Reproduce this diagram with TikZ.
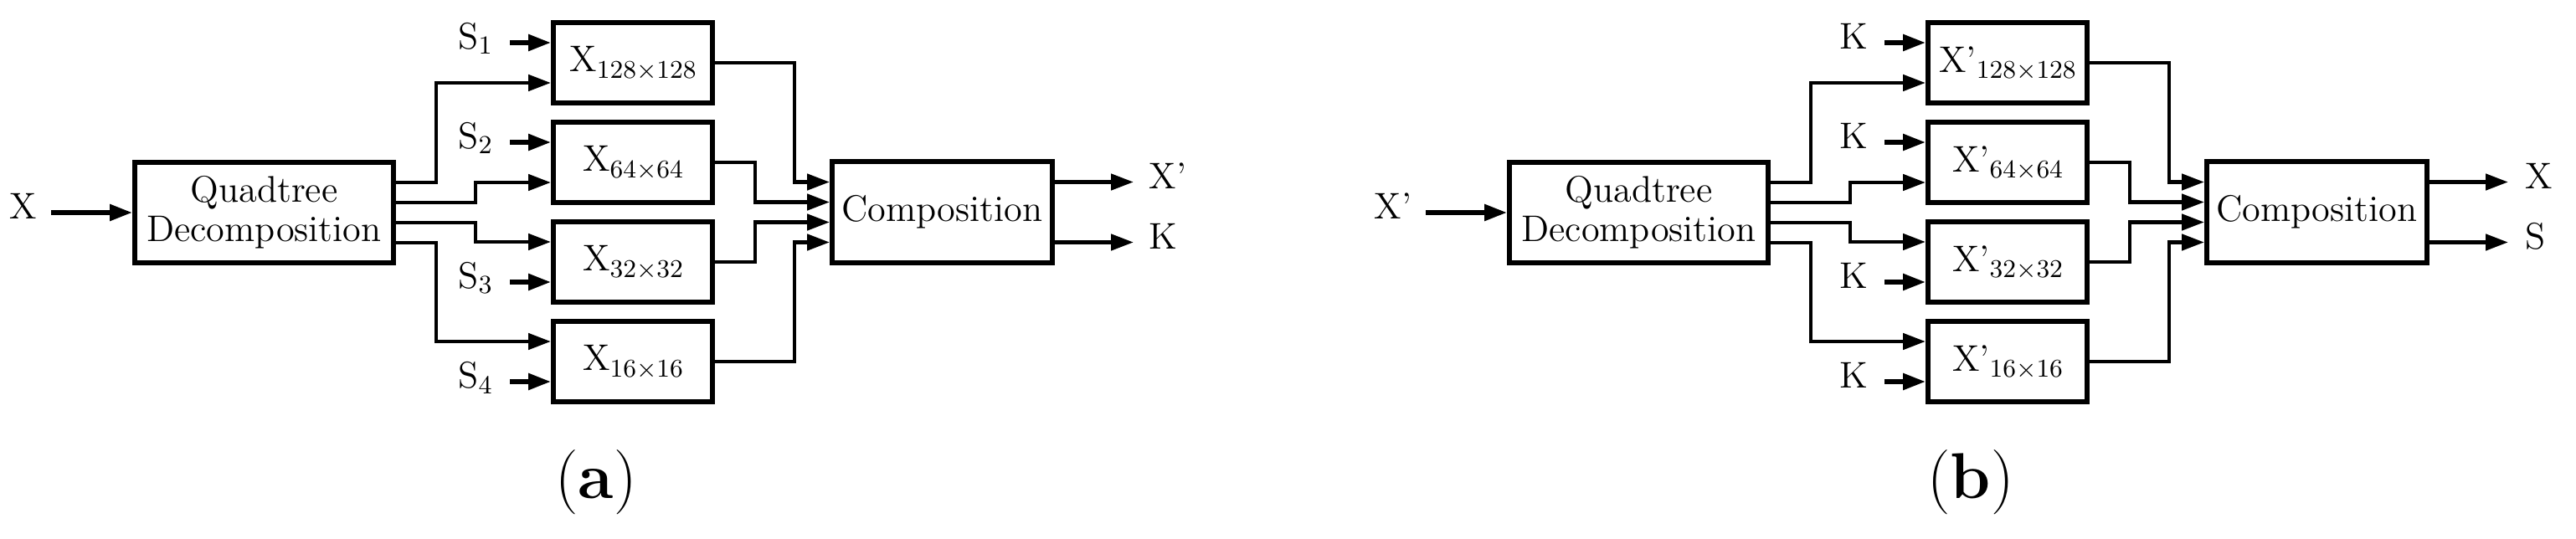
\documentclass[tikz,border=0pt]{standalone}
\usetikzlibrary{arrows.meta, positioning, calc}

\newcommand{\blksub}[1]{\raisebox{-0.4ex}{\fontsize{8.7}{9}\selectfont #1}}

\begin{document}
\begin{tikzpicture}[
        font=\fontsize{12.6}{13.4}\selectfont,
        block/.style={rectangle, draw=black, line width=1.7pt, minimum width=1.9cm, minimum height=0.96cm, inner sep=0pt, align=center},
        bigblock/.style={rectangle, draw=black, line width=1.7pt, minimum width=3.09cm, minimum height=1.2cm, inner sep=0pt, align=center},
        compblock/.style={bigblock, minimum width=2.63cm, minimum height=1.21cm},
        lbl/.style={inner sep=0pt},
        caption/.style={font=\fontsize{22}{26}\selectfont},
        flow/.style={-{Triangle[length=2.7mm, width=1.9mm]}, line width=1.35pt},
        inflow/.style={flow, line width=1.6pt}
    ]
        \useasboundingbox (0,0) rectangle (30.77,-6.44);

        % (a) ZAKODOWANIE
        \node[bigblock] (qt_a) at (3.155,-2.54) {Quadtree\\Decomposition};
        \node[block] (blk_a1) at (7.56,-0.75) {X\blksub{128\texttimes128}};
        \node[block] (blk_a2) at (7.56,-1.94) {X\blksub{64\texttimes64}};
        \node[block] (blk_a3) at (7.56,-3.13) {X\blksub{32\texttimes32}};
        \node[block] (blk_a4) at (7.56,-4.32) {X\blksub{16\texttimes16}};
        \node[compblock] (comp_a) at (11.255,-2.535) {Composition};

        % wejscia (a)
        \coordinate (xin_a) at ($(qt_a.west)+(-0.97,0)$);
        \node[lbl, left=0.16cm of xin_a, anchor=mid east] (xlbl_a) {X};
        \coordinate (s_a1) at ($(blk_a1.west)+(-0.49,0.24)$);
        \coordinate (s_a2) at ($(blk_a2.west)+(-0.49,0.24)$);
        \coordinate (s_a3) at ($(blk_a3.west)+(-0.49,-0.24)$);
        \coordinate (s_a4) at ($(blk_a4.west)+(-0.49,-0.24)$);
        \node[lbl, left=0.19cm of s_a1, anchor=mid east] (slbl_a1) {S\textsubscript{1}};
        \node[lbl, left=0.19cm of s_a2, anchor=mid east] (slbl_a2) {S\textsubscript{2}};
        \node[lbl, left=0.19cm of s_a3, anchor=mid east] (slbl_a3) {S\textsubscript{3}};
        \node[lbl, left=0.19cm of s_a4, anchor=mid east] (slbl_a4) {S\textsubscript{4}};

        % wyjscia (a)
        \coordinate (xo_a) at ($(comp_a.east)+(0.94,0.36)$);
        \coordinate (ko_a) at ($(comp_a.east)+(0.94,-0.36)$);
        \node[lbl, right=0.18cm of xo_a, anchor=mid west] (xolbl_a) {X'};
        \node[lbl, right=0.18cm of ko_a, anchor=mid west] (kolbl_a) {K};

        \node[caption] (cap_a) at (7.12,-5.76) {(\textbf{a})};

        % FLOWS (a)
        \draw[inflow] (xin_a) -- (qt_a.west);
        \draw[inflow] (s_a1) -- (s_a1 -| blk_a1.west);
        \draw[inflow] (s_a2) -- (s_a2 -| blk_a2.west);
        \draw[inflow] (s_a3) -- (s_a3 -| blk_a3.west);
        \draw[inflow] (s_a4) -- (s_a4 -| blk_a4.west);

        \draw[flow] ($(qt_a.east)+(0,0.36)$) -- ++(0.48,0) |- ($(blk_a1.west)+(0,-0.24)$);
        \draw[flow] ($(qt_a.east)+(0,0.12)$) -- ++(0.95,0) |- ($(blk_a2.west)+(0,-0.24)$);
        \draw[flow] ($(qt_a.east)+(0,-0.12)$) -- ++(0.95,0) |- ($(blk_a3.west)+(0,0.24)$);
        \draw[flow] ($(qt_a.east)+(0,-0.36)$) -- ++(0.48,0) |- ($(blk_a4.west)+(0,0.24)$);

        \draw[flow] (blk_a1.east) -- ++(0.95,0) |- ($(comp_a.west)+(0,0.36)$);
        \draw[flow] (blk_a2.east) -- ++(0.48,0) |- ($(comp_a.west)+(0,0.12)$);
        \draw[flow] (blk_a3.east) -- ++(0.48,0) |- ($(comp_a.west)+(0,-0.12)$);
        \draw[flow] (blk_a4.east) -- ++(0.95,0) |- ($(comp_a.west)+(0,-0.36)$);

        \draw[flow] (comp_a.east |- xo_a) -- (xo_a);
        \draw[flow] (comp_a.east |- ko_a) -- (ko_a);

        % (b) DEKODOWANIE
        \node[bigblock] (qt_b) at (19.575,-2.54) {Quadtree\\Decomposition};
        \node[block] (blk_b1) at (23.98,-0.75) {X'\blksub{128\texttimes128}};
        \node[block] (blk_b2) at (23.98,-1.94) {X'\blksub{64\texttimes64}};
        \node[block] (blk_b3) at (23.98,-3.13) {X'\blksub{32\texttimes32}};
        \node[block] (blk_b4) at (23.98,-4.32) {X'\blksub{16\texttimes16}};
        \node[compblock] (comp_b) at (27.675,-2.535) {Composition};

        % wejscia (b)
        \coordinate (xin_b) at ($(qt_b.west)+(-0.97,0)$);
        \node[lbl, left=0.16cm of xin_b, anchor=mid east] (xlbl_b) {X'};
        \coordinate (k_b1) at ($(blk_b1.west)+(-0.49,0.24)$);
        \coordinate (k_b2) at ($(blk_b2.west)+(-0.49,0.24)$);
        \coordinate (k_b3) at ($(blk_b3.west)+(-0.49,-0.24)$);
        \coordinate (k_b4) at ($(blk_b4.west)+(-0.49,-0.24)$);
        \node[lbl, left=0.19cm of k_b1, anchor=mid east] (klbl_b1) {K};
        \node[lbl, left=0.19cm of k_b2, anchor=mid east] (klbl_b2) {K};
        \node[lbl, left=0.19cm of k_b3, anchor=mid east] (klbl_b3) {K};
        \node[lbl, left=0.19cm of k_b4, anchor=mid east] (klbl_b4) {K};

        % wyjscia (b)
        \coordinate (xo_b) at ($(comp_b.east)+(0.94,0.36)$);
        \coordinate (so_b) at ($(comp_b.east)+(0.94,-0.36)$);
        \node[lbl, right=0.2cm of xo_b, anchor=mid west] (xolbl_b) {X};
        \node[lbl, right=0.2cm of so_b, anchor=mid west] (solbl_b) {S};

        \node[caption] (cap_b) at (23.54,-5.76) {(\textbf{b})};

        % FLOWS (b)
        \draw[inflow] (xin_b) -- (qt_b.west);
        \draw[inflow] (k_b1) -- (k_b1 -| blk_b1.west);
        \draw[inflow] (k_b2) -- (k_b2 -| blk_b2.west);
        \draw[inflow] (k_b3) -- (k_b3 -| blk_b3.west);
        \draw[inflow] (k_b4) -- (k_b4 -| blk_b4.west);

        \draw[flow] ($(qt_b.east)+(0,0.36)$) -- ++(0.48,0) |- ($(blk_b1.west)+(0,-0.24)$);
        \draw[flow] ($(qt_b.east)+(0,0.12)$) -- ++(0.95,0) |- ($(blk_b2.west)+(0,-0.24)$);
        \draw[flow] ($(qt_b.east)+(0,-0.12)$) -- ++(0.95,0) |- ($(blk_b3.west)+(0,0.24)$);
        \draw[flow] ($(qt_b.east)+(0,-0.36)$) -- ++(0.48,0) |- ($(blk_b4.west)+(0,0.24)$);

        \draw[flow] (blk_b1.east) -- ++(0.95,0) |- ($(comp_b.west)+(0,0.36)$);
        \draw[flow] (blk_b2.east) -- ++(0.48,0) |- ($(comp_b.west)+(0,0.12)$);
        \draw[flow] (blk_b3.east) -- ++(0.48,0) |- ($(comp_b.west)+(0,-0.12)$);
        \draw[flow] (blk_b4.east) -- ++(0.95,0) |- ($(comp_b.west)+(0,-0.36)$);

        \draw[flow] (comp_b.east |- xo_b) -- (xo_b);
        \draw[flow] (comp_b.east |- so_b) -- (so_b);

    \end{tikzpicture}
\end{document}
